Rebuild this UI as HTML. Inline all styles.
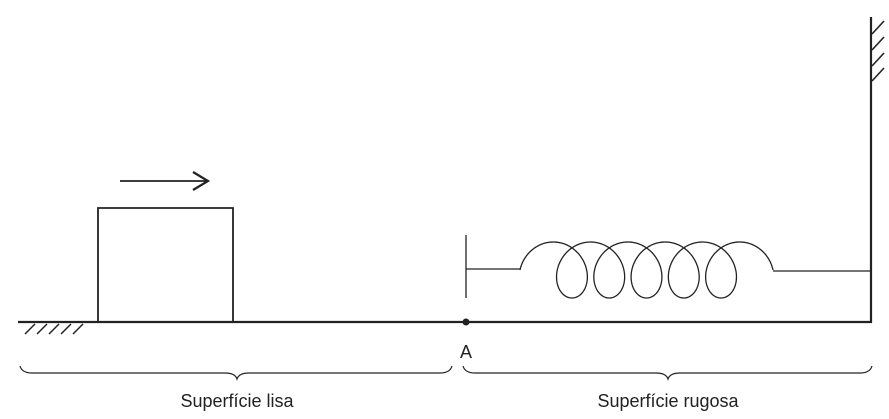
<!DOCTYPE html>
<html><head><meta charset="utf-8"><style>
html,body{margin:0;padding:0;background:#fff;}
svg{display:block;}
text{font-family:"Liberation Sans",sans-serif;fill:#222;}
</style></head><body>
<svg width="889" height="419" viewBox="0 0 889 419" xmlns="http://www.w3.org/2000/svg">
<g stroke="#222" fill="none" stroke-linecap="butt">
<line x1="18" y1="322" x2="872" y2="322" stroke-width="2.2"/>
<line x1="871" y1="17" x2="871" y2="323" stroke-width="2.2"/>
<g stroke-width="1.6">
<line x1="872" y1="34" x2="884" y2="21"/>
<line x1="872" y1="50" x2="884" y2="37"/>
<line x1="872" y1="66" x2="884" y2="53"/>
<line x1="872" y1="81" x2="884" y2="68"/>
</g>
<g stroke-width="1.5">
<line x1="25" y1="334" x2="35" y2="324"/>
<line x1="37" y1="334" x2="47" y2="324"/>
<line x1="49" y1="334" x2="59" y2="324"/>
<line x1="61" y1="334" x2="71" y2="324"/>
<line x1="73" y1="334" x2="83" y2="324"/>
</g>
<path d="M98 322 V208 H233 V322" stroke-width="1.8"/>
<line x1="120" y1="181" x2="207" y2="181" stroke-width="1.8"/>
<path d="M193 172 L208 181 L193 190" stroke-width="2.2"/>
<g stroke-width="1.3">
<line x1="466" y1="235" x2="466" y2="298"/>
<line x1="466" y1="269" x2="520" y2="269"/>
<path id="coil" d=""/>
<line x1="773" y1="271" x2="871" y2="271"/>
</g>
<g stroke-width="1.2">
<path d="M20 366 Q22 373 32 373 H225 Q235 373 237 379 Q239 373 249 373 H440 Q450 373 452 366"/>
<path d="M463 366 Q465 373 475 373 H656 Q666 373 668 379 Q670 373 680 373 H860 Q870 373 872 366"/>
</g>
</g>
<circle cx="466" cy="322" r="3.5" fill="#222"/>
<text x="466" y="358" font-size="18" text-anchor="middle">A</text>
<text x="237" y="407" font-size="18" text-anchor="middle">Superfície lisa</text>
<text x="668" y="407" font-size="18" text-anchor="middle">Superfície rugosa</text>
</svg>
<script>
(function(){
var rx=24,ry=28,N=5,p=(253-2*rx)/(N+0.5);
var xc=520+p/4+rx;
var t0=-Math.PI/2,t1=Math.PI/2+2*Math.PI*N;
var d="",n=800;
for(var i=0;i<=n;i++){
var t=t0+(t1-t0)*i/n;
var x=xc+p*t/(2*Math.PI)+rx*Math.sin(t);
var y=270-ry*Math.cos(t);
d+=(i?"L":"M")+x.toFixed(2)+" "+y.toFixed(2);
}
document.getElementById("coil").setAttribute("d",d);
})();
</script>
</body></html>
